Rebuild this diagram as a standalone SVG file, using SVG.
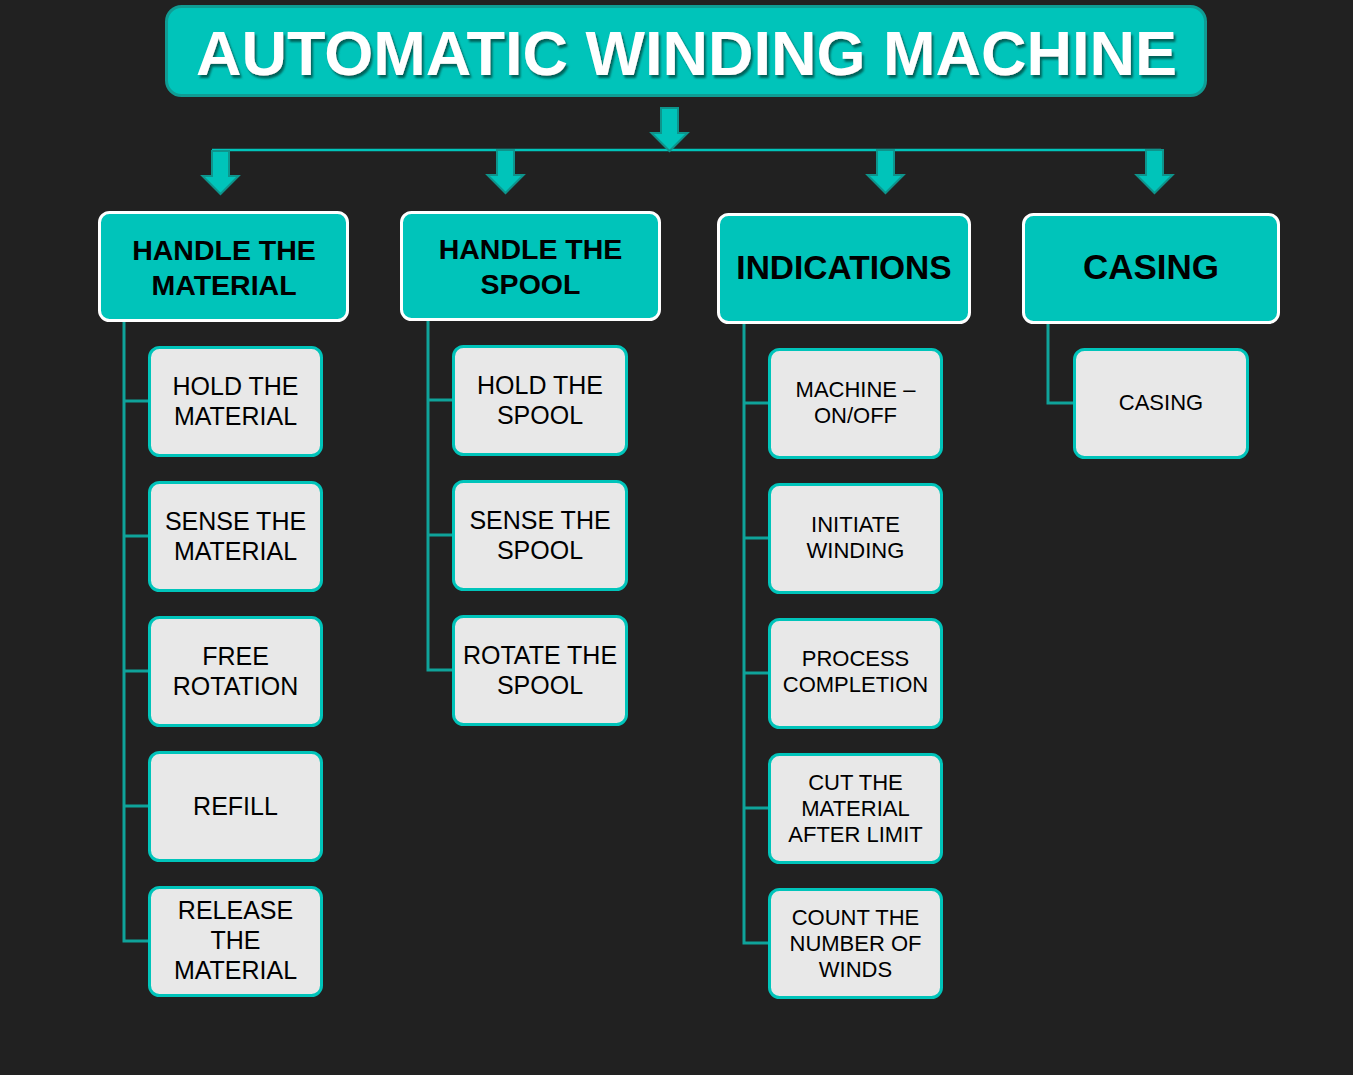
<svg xmlns="http://www.w3.org/2000/svg" width="1353" height="1075" viewBox="0 0 1353 1075">
  <style>
    .bg { fill: #212121; }
    .title-box { fill: #00c4ba; stroke: #109c94; stroke-width: 3; }
    .title { font-family: "Liberation Sans", Arial, sans-serif; font-weight: bold; font-size: 63px; fill: #ffffff; text-anchor: middle; }
    .cat { fill: #00c4ba; stroke: #ffffff; stroke-width: 3; }
    .cat-text { font-family: "Liberation Sans", Arial, sans-serif; font-weight: bold; fill: #000000; text-anchor: middle; }
    .sub { fill: #e8e8e8; stroke: #00c4ba; stroke-width: 3; }
    .sub-text { font-family: "Liberation Sans", Arial, sans-serif; fill: #000000; text-anchor: middle; }
    .big { font-size: 25px; }
    .small { font-size: 22px; }
    .tree { fill: none; stroke: #0fa39a; stroke-width: 3; }
    .bus { fill: none; stroke: #00c4ba; stroke-width: 2.5; }
    .arrow { fill: #00c4ba; stroke: #0e948c; stroke-width: 2; stroke-linejoin: miter; }
  </style>
  <defs>
    <filter id="titleShadow" x="-5%" y="-20%" width="110%" height="150%">
      <feDropShadow dx="2" dy="3" stdDeviation="1.2" flood-color="#04564f" flood-opacity="0.9"/>
    </filter>
    <!-- block arrow pointing down, tip at origin -->
    <path id="downArrow" d="M -8.5 -43 L 8.5 -43 L 8.5 -18 L 18 -18 L 0 0 L -18 -18 L -8.5 -18 Z"/>
  </defs>

  <rect class="bg" x="0" y="0" width="1353" height="1075"/>

  <!-- Title -->
  <g id="title">
    <rect class="title-box" x="166.5" y="6.5" width="1039" height="89" rx="15"/>
    <text class="title" x="686.5" y="75" filter="url(#titleShadow)">AUTOMATIC WINDING MACHINE</text>
  </g>

  <!-- Connectors -->
  <g id="connectors">
    <line class="bus" x1="212" y1="150" x2="1161" y2="150"/>
    <use href="#downArrow" class="arrow" x="669.5" y="151"/>
    <use href="#downArrow" class="arrow" x="220.5" y="194"/>
    <use href="#downArrow" class="arrow" x="505.5" y="193"/>
    <use href="#downArrow" class="arrow" x="885.5" y="193"/>
    <use href="#downArrow" class="arrow" x="1154.5" y="193"/>

    <!-- Handle the material branch -->
    <path class="tree" d="M124 321 V941 H149 M124 401 H149 M124 536 H149 M124 671 H149 M124 806 H149"/>
    <!-- Handle the spool branch -->
    <path class="tree" d="M428 320 V670 H453 M428 400 H453 M428 535 H453"/>
    <!-- Indications branch -->
    <path class="tree" d="M744 323 V943 H769 M744 403 H769 M744 538 H769 M744 673 H769 M744 808 H769"/>
    <!-- Casing branch -->
    <path class="tree" d="M1048 323 V403 H1074"/>
  </g>

  <!-- Category: Handle the material -->
  <g id="handle-material">
    <rect class="cat" x="99.5" y="212.5" width="248" height="108" rx="10"/>
    <text class="cat-text" font-size="28.5" x="224" y="260">HANDLE THE</text>
    <text class="cat-text" font-size="28.5" x="224" y="295">MATERIAL</text>
  </g>
  <g id="hold-material">
    <rect class="sub" x="149.5" y="347.5" width="172" height="108" rx="10"/>
    <text class="sub-text big" x="235.5" y="395">HOLD THE</text>
    <text class="sub-text big" x="235.5" y="425">MATERIAL</text>
  </g>
  <g id="sense-material">
    <rect class="sub" x="149.5" y="482.5" width="172" height="108" rx="10"/>
    <text class="sub-text big" x="235.5" y="530">SENSE THE</text>
    <text class="sub-text big" x="235.5" y="560">MATERIAL</text>
  </g>
  <g id="free-rotation">
    <rect class="sub" x="149.5" y="617.5" width="172" height="108" rx="10"/>
    <text class="sub-text big" x="235.5" y="665">FREE</text>
    <text class="sub-text big" x="235.5" y="695">ROTATION</text>
  </g>
  <g id="refill">
    <rect class="sub" x="149.5" y="752.5" width="172" height="108" rx="10"/>
    <text class="sub-text big" x="235.5" y="815">REFILL</text>
  </g>
  <g id="release-material">
    <rect class="sub" x="149.5" y="887.5" width="172" height="108" rx="10"/>
    <text class="sub-text big" x="235.5" y="919">RELEASE</text>
    <text class="sub-text big" x="235.5" y="949">THE</text>
    <text class="sub-text big" x="235.5" y="979">MATERIAL</text>
  </g>

  <!-- Category: Handle the spool -->
  <g id="handle-spool">
    <rect class="cat" x="401.5" y="212.5" width="258" height="107" rx="10"/>
    <text class="cat-text" font-size="28.5" x="530.5" y="259">HANDLE THE</text>
    <text class="cat-text" font-size="28.5" x="530.5" y="294">SPOOL</text>
  </g>
  <g id="hold-spool">
    <rect class="sub" x="453.5" y="346.5" width="173" height="108" rx="10"/>
    <text class="sub-text big" x="540" y="394">HOLD THE</text>
    <text class="sub-text big" x="540" y="424">SPOOL</text>
  </g>
  <g id="sense-spool">
    <rect class="sub" x="453.5" y="481.5" width="173" height="108" rx="10"/>
    <text class="sub-text big" x="540" y="529">SENSE THE</text>
    <text class="sub-text big" x="540" y="559">SPOOL</text>
  </g>
  <g id="rotate-spool">
    <rect class="sub" x="453.5" y="616.5" width="173" height="108" rx="10"/>
    <text class="sub-text big" x="540" y="664">ROTATE THE</text>
    <text class="sub-text big" x="540" y="694">SPOOL</text>
  </g>

  <!-- Category: Indications -->
  <g id="indications">
    <rect class="cat" x="718.5" y="214.5" width="251" height="108" rx="10"/>
    <text class="cat-text" font-size="33.5" x="844" y="279">INDICATIONS</text>
  </g>
  <g id="machine-on-off">
    <rect class="sub" x="769.5" y="349.5" width="172" height="108" rx="10"/>
    <text class="sub-text small" x="855.5" y="397">MACHINE –</text>
    <text class="sub-text small" x="855.5" y="423">ON/OFF</text>
  </g>
  <g id="initiate-winding">
    <rect class="sub" x="769.5" y="484.5" width="172" height="108" rx="10"/>
    <text class="sub-text small" x="855.5" y="532">INITIATE</text>
    <text class="sub-text small" x="855.5" y="558">WINDING</text>
  </g>
  <g id="process-completion">
    <rect class="sub" x="769.5" y="619.5" width="172" height="108" rx="10"/>
    <text class="sub-text small" x="855.5" y="666">PROCESS</text>
    <text class="sub-text small" x="855.5" y="692">COMPLETION</text>
  </g>
  <g id="cut-material">
    <rect class="sub" x="769.5" y="754.5" width="172" height="108" rx="10"/>
    <text class="sub-text small" x="855.5" y="790">CUT THE</text>
    <text class="sub-text small" x="855.5" y="816">MATERIAL</text>
    <text class="sub-text small" x="855.5" y="842">AFTER LIMIT</text>
  </g>
  <g id="count-winds">
    <rect class="sub" x="769.5" y="889.5" width="172" height="108" rx="10"/>
    <text class="sub-text small" x="855.5" y="925">COUNT THE</text>
    <text class="sub-text small" x="855.5" y="951">NUMBER OF</text>
    <text class="sub-text small" x="855.5" y="977">WINDS</text>
  </g>

  <!-- Category: Casing -->
  <g id="casing-category">
    <rect class="cat" x="1023.5" y="214.5" width="255" height="108" rx="10"/>
    <text class="cat-text" font-size="35" x="1151" y="279">CASING</text>
  </g>
  <g id="casing">
    <rect class="sub" x="1074.5" y="349.5" width="173" height="108" rx="10"/>
    <text class="sub-text small" x="1161" y="410">CASING</text>
  </g>
</svg>
